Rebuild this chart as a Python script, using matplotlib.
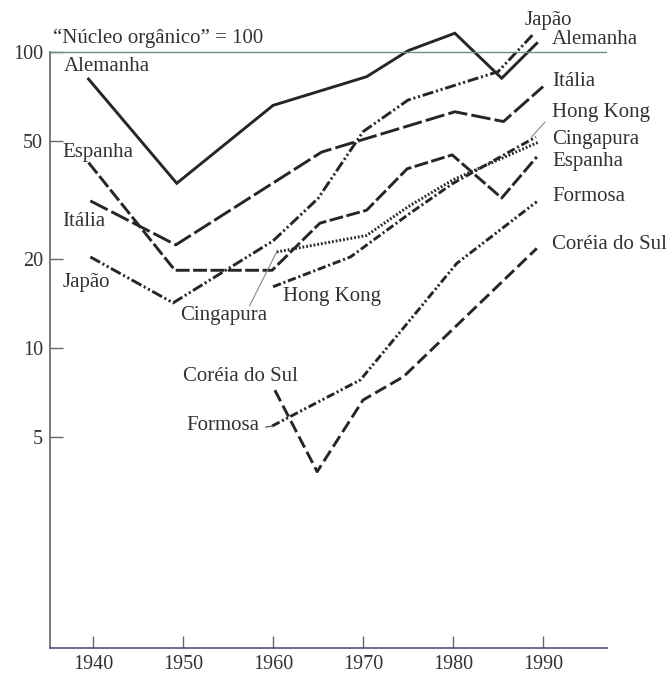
import matplotlib
matplotlib.use("Agg")
import matplotlib.pyplot as plt
from matplotlib.ticker import NullLocator

plt.rcParams['font.family'] = ['Liberation Serif', 'DejaVu Serif']
plt.rcParams['lines.scale_dashes'] = False

# values ("núcleo orgânico" = 100, log scale)
anos_alemanha = [1939.5, 1949.3, 1960, 1970.4, 1975, 1980.2, 1985.4, 1989.3]
alemanha = [81, 36, 66, 82.5, 101, 115.7, 81.5, 107]

anos_japao = [1939.7, 1948.9, 1960, 1965, 1970, 1975, 1985, 1989]
japao = [20.3, 14.2, 23.0, 32, 53.8, 68.8, 85.8, 115.6]

anos_italia = [1939.7, 1949.2, 1965.4, 1980.2, 1985.6, 1990]
italia = [31.4, 22.3, 45.9, 62.8, 58.2, 76.4]

anos_espanha = [1939.5, 1949.1, 1959.9, 1965.2, 1970.4, 1974.9, 1979.9, 1985.4, 1989.3]
espanha = [42.3, 18.3, 18.3, 26.4, 29.2, 40.3, 44.9, 32.1, 44.2]

anos_cingapura = [1960.4, 1970.4, 1975, 1980, 1989.5]
cingapura = [21.1, 24.0, 30.0, 37.0, 49.6]

anos_hongkong = [1960, 1968.6, 1975.2, 1980, 1989.2]
hongkong = [16.1, 20.3, 28.5, 36.0, 51.6]

anos_formosa = [1959.9, 1969.7, 1975, 1980.4, 1989.3]
formosa = [5.45, 7.8, 12.2, 19.3, 31.2]

anos_coreia = [1960.2, 1964.9, 1970, 1974.5, 1989.3]
coreia = [7.2, 3.82, 6.67, 8.0, 21.7]

x_ticks = [1940, 1950, 1960, 1970, 1980, 1990]
y_ticks = [5, 10, 20, 50, 100]

ink = '#262626'
txt = '#333333'

fig = plt.figure(figsize=(6.68, 6.75), dpi=100)
ax = fig.add_axes([50 / 668, 27 / 675, 557 / 668, 638 / 675])
ax.set_yscale('log')
ax.set_xlim(1935.22, 1997.1)
ax.set_ylim(0.969, 138.6)

lw = 2.1
ax.plot(anos_alemanha, alemanha, color=ink, lw=lw, solid_joinstyle='miter')
ax.plot(anos_japao, japao, color=ink, lw=lw, dashes=(8, 2, 1.5, 2, 1.5, 2))
ax.plot(anos_italia, italia, color=ink, lw=lw, dashes=(14, 3))
ax.plot(anos_espanha, espanha, color=ink, lw=lw, dashes=(10, 2.5))
ax.plot(anos_cingapura, cingapura, color=ink, lw=lw, dashes=(1.3, 1.4))
ax.plot(anos_hongkong, hongkong, color=ink, lw=lw, dashes=(6, 2, 1.5, 2))
ax.plot(anos_formosa, formosa, color=ink, lw=lw, dashes=(6, 2, 1.5, 1.8, 1.5, 2))
ax.plot(anos_coreia, coreia, color=ink, lw=lw, dashes=(9, 3.5))

# reference line "núcleo orgânico" = 100
ax.axhline(100, color='#6f8c88', lw=1.0)

# axes look
for s in ['top', 'right']:
    ax.spines[s].set_visible(False)
ax.spines['left'].set_bounds(0.969, 100)
ax.spines['left'].set_color('#666666')
ax.spines['bottom'].set_color('#555577')
ax.spines['left'].set_linewidth(1.2)
ax.spines['bottom'].set_linewidth(1.2)

ax.set_xticks(x_ticks)
ax.set_xticklabels([str(a) for a in x_ticks])
ax.set_yticks(y_ticks)
ax.set_yticklabels([str(v) for v in y_ticks])
ax.yaxis.set_minor_locator(NullLocator())
ax.tick_params(direction='in', length=9, width=1.0, color='#666666',
               labelsize=14.5, labelcolor=txt)
ax.tick_params(axis='y', pad=5)
ax.tick_params(axis='x', pad=5)

fs = 15
# labels on the left
ax.text(1935.6, 111.5, '\u201cNúcleo orgânico\u201d = 100', fontsize=fs, color=txt, va='center')
ax.text(1936.7, 89.0, 'Alemanha', fontsize=fs, color=txt, va='center')
ax.text(1936.6, 45.9, 'Espanha', fontsize=fs, color=txt, va='center')
ax.text(1936.6, 26.7, 'Itália', fontsize=fs, color=txt, va='center')
ax.text(1936.6, 16.6, 'Japão', fontsize=fs, color=txt, va='center')
ax.text(1949.7, 12.9, 'Cingapura', fontsize=fs, color=txt, va='center')
ax.text(1961.1, 14.9, 'Hong Kong', fontsize=fs, color=txt, va='center')
ax.text(1950.0, 7.98, 'Coréia do Sul', fontsize=fs, color=txt, va='center')
ax.text(1950.4, 5.45, 'Formosa', fontsize=fs, color=txt, va='center')

# labels on the right
ax.text(1988.0, 128.0, 'Japão', fontsize=fs, color=txt, va='center', clip_on=False)
rotulos = ['Alemanha', 'Itália', 'Hong Kong', 'Cingapura', 'Espanha', 'Formosa', 'Coréia do Sul']
rotulos_y = [110.0, 79.2, 62.2, 50.5, 42.5, 32.4, 22.3]
for nome, yv in zip(rotulos, rotulos_y):
    ax.text(1991.0, yv, nome, fontsize=fs, color=txt, va='center', clip_on=False)

# leader lines
ax.plot([1957.4, 1960.4], [13.9, 21.1], color='#888888', lw=0.8)
ax.plot([1990.2, 1988.7], [57.9, 51.6], color='#888888', lw=0.8, clip_on=False)
ax.plot([1959.2, 1959.9], [5.4, 5.45], color='#555555', lw=0.9)

fig.savefig('out.png', dpi=100)
